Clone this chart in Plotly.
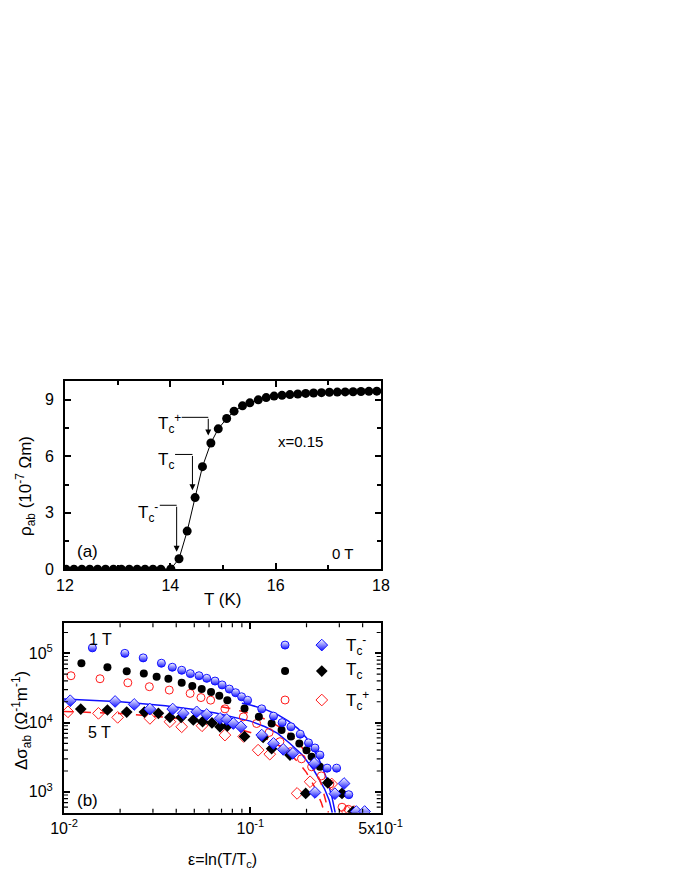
import plotly.graph_objects as go

# the page body has an 8 px margin, so the figure sits at (8, 8) in the window
OFF = 8
W, H = 680 - 2 * OFF, 880 - 2 * OFF
FONT = "Arial, Liberation Sans, sans-serif"
BLUE = "#1010ff"
RED = "#ff1a1a"

# ---- panel (a): rho_ab vs T, x=0.15, 0 T ----
T_K = [12.02, 12.17, 12.32, 12.47, 12.62, 12.77, 12.92, 13.07, 13.22, 13.37,
       13.52, 13.67, 13.82, 14.01, 14.165, 14.32, 14.47, 14.61, 14.77, 14.91,
       15.07, 15.21, 15.37, 15.51, 15.67, 15.82, 15.97, 16.12, 16.27, 16.42,
       16.57, 16.72, 16.87, 17.02, 17.17, 17.32, 17.47, 17.62, 17.77, 17.92]
rho_ab = [0.0, 0.0, 0.0, 0.0, 0.0, 0.0, 0.0, 0.0, 0.0, 0.0,
          0.0, 0.0, 0.0, 0.02, 0.56, 2.03, 3.81, 5.45, 6.71, 7.46,
          8.01, 8.40, 8.68, 8.84, 9.00, 9.12, 9.20, 9.24, 9.28, 9.31,
          9.34, 9.36, 9.38, 9.40, 9.41, 9.42, 9.43, 9.44, 9.45, 9.46]

# arrows: tip T, tip rho, corner rho, start of horizontal line
arrow_T = [14.72, 14.42, 14.12]
arrow_tip = [7.1, 4.2, 0.93]
arrow_corner = [8.07, 6.1, 3.4]
arrow_start = [14.215, 14.09, 13.80]
arrow_text = ["T<sub>c</sub><sup>+</sup>", "T<sub>c</sub>", "T<sub>c</sub><sup>-</sup>"]

# ---- panel (b): excess conductivity ----
# 1 T, circles
eps_1T_minus = [0.0142, 0.0212, 0.0266, 0.0333, 0.0381, 0.0428, 0.0476, 0.053, 0.0583,
                0.0646, 0.0705, 0.0771, 0.0833, 0.0897, 0.0966, 0.115, 0.133, 0.148,
                0.165, 0.185, 0.205, 0.222, 0.236, 0.258, 0.29, 0.337]
sig_1T_minus = [1.2e5, 1.0e5, 8.6e4, 7.2e4, 6.3e4, 5.7e4, 5.1e4, 4.75e4, 4.36e4,
                3.98e4, 3.5e4, 3.05e4, 2.7e4, 2.36e4, 2.1e4, 1.58e4, 1.24e4, 1.0e4,
                8.7e3, 6.8e3, 5.1e3, 4.3e3, 3.4e3, 2.2e3, 2.2e3, 910]
eps_1T_c = [0.0124, 0.0171, 0.0217, 0.0268, 0.0314, 0.0363, 0.0428, 0.0488, 0.0548,
            0.0615, 0.0681, 0.0752, 0.093, 0.111, 0.13, 0.147, 0.165, 0.183, 0.2,
            0.213, 0.236, 0.26, 0.31]
sig_1T_c = [7.2e4, 6.3e4, 5.5e4, 5.1e4, 4.6e4, 4.3e4, 3.76e4, 3.37e4, 3.05e4,
            2.76e4, 2.44e4, 2.11e4, 1.6e4, 1.21e4, 9.7e3, 7.8e3, 6.3e3, 5.0e3, 4.0e3,
            3.2e3, 2.3e3, 1.35e3, 950]
eps_1T_plus = [0.0109, 0.0156, 0.022, 0.0287, 0.0367, 0.0475, 0.0543, 0.0612, 0.073,
               0.0917, 0.108, 0.126, 0.144, 0.164, 0.188, 0.213, 0.24, 0.267, 0.31, 0.335]
sig_1T_plus = [4.75e4, 4.3e4, 3.76e4, 3.3e4, 2.95e4, 2.64e4, 2.3e4, 2.11e4, 1.58e4,
               1.21e4, 9.7e3, 7.2e3, 5.3e3, 3.8e3, 3.0e3, 2.3e3, 1.7e3, 1.3e3, 600, 560]
# 5 T, diamonds
eps_5T_minus = [0.0108, 0.0188, 0.0238, 0.0289, 0.0383, 0.0436, 0.0515, 0.0583, 0.0687,
                0.0747, 0.081, 0.089, 0.115, 0.133, 0.15, 0.169, 0.22, 0.222, 0.284,
                0.318, 0.37, 0.41]
sig_5T_minus = [2.07e4, 2.02e4, 1.83e4, 1.57e4, 1.57e4, 1.36e4, 1.43e4, 1.31e4, 1.15e4,
                1.11e4, 9.7e3, 8.7e3, 6.6e3, 5.0e3, 4.1e3, 3.6e3, 2.57e3, 980, 940,
                1.32e3, 520, 520]
eps_5T_c = [0.0123, 0.0171, 0.0217, 0.027, 0.0321, 0.037, 0.0425, 0.0494, 0.0554,
            0.0622, 0.0687, 0.0752, 0.093, 0.117, 0.13, 0.163, 0.198, 0.26, 0.31, 0.355]
sig_5T_c = [1.57e4, 1.52e4, 1.42e4, 1.42e4, 1.36e4, 1.19e4, 1.19e4, 1.09e4, 1.03e4,
            9.9e3, 8.7e3, 8.9e3, 6.3e3, 6.1e3, 4.2e3, 3.4e3, 950, 1.35e3, 950, 520]
eps_5T_plus = [0.0105, 0.0153, 0.0194, 0.0289, 0.037, 0.0428, 0.055, 0.073, 0.092,
               0.11, 0.127, 0.178, 0.209, 0.273, 0.33, 0.36]
sig_5T_plus = [1.43e4, 1.36e4, 1.19e4, 1.15e4, 1.03e4, 8.7e3, 9.0e3, 6.6e3, 6.3e3,
               4.0e3, 3.5e3, 950, 1.4e3, 1.3e3, 520, 520]

# fits
fit_1T_blue_eps = [0.09, 0.1, 0.12, 0.14, 0.16, 0.18, 0.2, 0.22, 0.24, 0.26, 0.275, 0.285]
fit_1T_blue_sig = [1.9e4, 1.8e4, 1.55e4, 1.3e4, 1.05e4, 8.2e3, 6.0e3, 4.0e3, 2.5e3, 1.4e3, 800, 500]
fit_5T_blue_eps = [0.01, 0.02, 0.035, 0.05, 0.065, 0.08, 0.1, 0.12, 0.14, 0.163, 0.19,
                   0.218, 0.25, 0.265, 0.275]
fit_5T_blue_sig = [2.2e4, 2.0e4, 1.75e4, 1.55e4, 1.38e4, 1.22e4, 1.05e4, 8.7e3, 7.0e3,
                   5.0e3, 3.4e3, 2.1e3, 1.1e3, 750, 500]
fit_1T_red_eps = [0.07, 0.08, 0.1, 0.12, 0.14, 0.16, 0.18, 0.2, 0.22, 0.24, 0.255, 0.262]
fit_1T_red_sig = [1.7e4, 1.58e4, 1.35e4, 1.12e4, 9.0e3, 7.0e3, 5.2e3, 3.6e3, 2.3e3, 1.3e3, 700, 500]
fit_5T_red_eps = [0.01, 0.02, 0.035, 0.05, 0.065, 0.08, 0.1, 0.12, 0.14, 0.16, 0.18,
                  0.2, 0.22, 0.24, 0.25]
fit_5T_red_sig = [1.45e4, 1.35e4, 1.2e4, 1.07e4, 9.5e3, 8.5e3, 7.2e3, 6.0e3, 4.8e3,
                  3.7e3, 2.7e3, 1.9e3, 1.2e3, 700, 500]

legend_labels = ["T<sub>c</sub><sup>-</sup>", "T<sub>c</sub>", "T<sub>c</sub><sup>+</sup>"]

# minor ticks of the log axes in panel (b)
minor_x_b = [0.02, 0.03, 0.04, 0.05, 0.06, 0.07, 0.08, 0.09, 0.2, 0.3, 0.4]
minor_y_b = [600, 700, 800, 900, 2e3, 3e3, 4e3, 5e3, 6e3, 7e3, 8e3, 9e3,
             2e4, 3e4, 4e4, 5e4, 6e4, 7e4, 8e4, 9e4, 2e5]


def px(x, y):
    # window pixel -> paper fraction
    return (x - OFF) / W, 1 - (y - OFF) / H


half_circle = dict(symbol="circle", size=8, color="white",
                   line=dict(color=BLUE, width=1),
                   gradient=dict(type="vertical", color=BLUE))
half_diamond = dict(symbol="diamond", size=9, color="white",
                    line=dict(color=BLUE, width=1),
                    gradient=dict(type="vertical", color=BLUE))
black_circle = dict(symbol="circle", size=8, color="black")
black_diamond = dict(symbol="diamond", size=9, color="black")
red_circle = dict(symbol="circle-open", size=8, color=RED, line=dict(width=1))
red_diamond = dict(symbol="diamond-open", size=9, color=RED, line=dict(width=1))

fig = go.Figure()

# panel (a)
fig.add_trace(go.Scatter(x=T_K, y=rho_ab, mode="lines+markers", xaxis="x", yaxis="y",
                         line=dict(color="black", width=1),
                         marker=dict(symbol="circle", size=9, color="black")))

# panel (b)
for e, s in [(fit_1T_blue_eps, fit_1T_blue_sig), (fit_5T_blue_eps, fit_5T_blue_sig)]:
    fig.add_trace(go.Scatter(x=e, y=s, mode="lines", xaxis="x2", yaxis="y2",
                             line=dict(color=BLUE, width=1.5)))
for e, s in [(fit_1T_red_eps, fit_1T_red_sig), (fit_5T_red_eps, fit_5T_red_sig)]:
    fig.add_trace(go.Scatter(x=e, y=s, mode="lines", xaxis="x2", yaxis="y2",
                             line=dict(color=RED, width=1.5, dash="dash")))

series = [
    (eps_1T_plus, sig_1T_plus, red_circle),
    (eps_5T_plus, sig_5T_plus, red_diamond),
    (eps_1T_c, sig_1T_c, black_circle),
    (eps_5T_c, sig_5T_c, black_diamond),
    (eps_1T_minus, sig_1T_minus, half_circle),
    (eps_5T_minus, sig_5T_minus, half_diamond),
]
for e, s, m in series:
    fig.add_trace(go.Scatter(x=e, y=s, mode="markers", xaxis="x2", yaxis="y2", marker=m))

# legend keys drawn on a hidden overlay axis of panel (b)
leg_rows = [0.885, 0.748, 0.595]
leg_markers = [(half_circle, half_diamond), (black_circle, black_diamond),
               (red_circle, red_diamond)]
for yy, (mc, md) in zip(leg_rows, leg_markers):
    fig.add_trace(go.Scatter(x=[0.698], y=[yy], mode="markers", xaxis="x3", yaxis="y3",
                             marker=mc, cliponaxis=False))
    fig.add_trace(go.Scatter(x=[0.814], y=[yy], mode="markers", xaxis="x3", yaxis="y3",
                             marker=md, cliponaxis=False))

axis_common = dict(showline=True, linecolor="black", linewidth=2, mirror="ticks",
                   ticks="inside", tickcolor="black", tickwidth=1.5, ticklen=6,
                   showgrid=False, zeroline=False, automargin=False,
                   tickfont=dict(family=FONT, size=16, color="black"))


def dom_x(a, b):
    return [(a - OFF) / W, (b - OFF) / W]


def dom_y(top, bottom):
    return [1 - (bottom - OFF) / H, 1 - (top - OFF) / H]


xa_dom = dom_x(65, 381)
ya_dom = dom_y(381, 569.3)
xb_dom = dom_x(64, 380.7)
yb_dom = dom_y(623.3, 812.7)

fig.update_layout(
    width=W, height=H, showlegend=False,
    paper_bgcolor="white", plot_bgcolor="white",
    margin=dict(l=0, r=0, t=0, b=0, autoexpand=False),
    font=dict(family=FONT, size=16, color="black"),
    xaxis=dict(axis_common, domain=xa_dom, anchor="y", range=[12, 18],
               tick0=12, dtick=2,
               minor=dict(dtick=1, ticks="inside", ticklen=4, tickcolor="black")),
    yaxis=dict(axis_common, domain=ya_dom, anchor="x", range=[0, 10],
               tick0=0, dtick=3, ticklabelstandoff=6,
               minor=dict(dtick=1.5, ticks="inside", ticklen=4, tickcolor="black")),
    xaxis2=dict(axis_common, domain=xb_dom, anchor="y2", type="log",
                range=[-2, -0.301],
                tickvals=[0.01, 0.1, 0.5],
                ticktext=["10<sup>-2</sup>", "10<sup>-1</sup>", "5x10<sup>-1</sup>"]),
    yaxis2=dict(axis_common, domain=yb_dom, anchor="x2", type="log",
                range=[2.699, 5.434], ticklabelstandoff=6,
                tickvals=[1e3, 1e4, 1e5],
                ticktext=["10<sup>3</sup>", "10<sup>4</sup>", "10<sup>5</sup>"]),
    xaxis3=dict(overlaying="x2", anchor="y3", range=[0, 1], visible=False),
    yaxis3=dict(overlaying="y2", anchor="x3", range=[0, 1], visible=False),
)

# minor ticks of panel (b), inside on all four sides
tick_w = dict(color="black", width=1.2)
ly = 4 / (yb_dom[1] - yb_dom[0]) / H
for v in minor_x_b:
    fig.add_shape(type="line", xref="x2", yref="y2 domain", x0=v, x1=v, y0=0, y1=ly, line=tick_w)
    fig.add_shape(type="line", xref="x2", yref="y2 domain", x0=v, x1=v, y0=1, y1=1 - ly, line=tick_w)
for v in minor_y_b:
    fig.add_shape(type="line", xref="paper", yref="y2", x0=xb_dom[0], x1=xb_dom[0] + 4 / W,
                  y0=v, y1=v, line=tick_w)
    fig.add_shape(type="line", xref="paper", yref="y2", x0=xb_dom[1], x1=xb_dom[1] - 4 / W,
                  y0=v, y1=v, line=tick_w)

# arrows in panel (a)
for xt, yt, yc, xs in zip(arrow_T, arrow_tip, arrow_corner, arrow_start):
    fig.add_shape(type="line", xref="x", yref="y", x0=xs, x1=xt, y0=yc, y1=yc,
                  line=dict(color="black", width=1))
    fig.add_annotation(x=xt, y=yt, ax=xt, ay=yc, xref="x", yref="y", axref="x", ayref="y",
                       text="", showarrow=True, arrowhead=2, arrowsize=1.2,
                       arrowwidth=1, arrowcolor="black")

labels = [
    # text, x px, y px, size, xanchor
    (arrow_text[0], 183, 424, 17, "right"),
    (arrow_text[1], 176, 461, 17, "right"),
    (arrow_text[2], 160, 513, 17, "right"),
    ("x=0.15", 300, 441, 15, "center"),
    ("(a)", 87, 551, 17, "center"),
    ("0 T", 342, 553, 15, "center"),
    ("T (K)", 223, 599, 17, "center"),
    ("1 T", 100, 639, 16, "center"),
    ("5 T", 99, 732, 16, "center"),
    ("(b)", 87, 800, 17, "center"),
    ("ε=ln(T/T<sub>c</sub>)", 223, 860, 16, "center"),
]
for txt, x, y, size, xa in labels:
    xp, yp = px(x, y)
    fig.add_annotation(x=xp, y=yp, xref="paper", yref="paper", text=txt, showarrow=False,
                       xanchor=xa, yanchor="middle", font=dict(family=FONT, size=size))

for txt, yy in zip(legend_labels, [645, 671, 700]):
    xp, yp = px(344, yy)
    fig.add_annotation(x=xp, y=yp, xref="paper", yref="paper", text=txt, showarrow=False,
                       xanchor="left", yanchor="middle", font=dict(family=FONT, size=17))

# rotated y titles
for txt, x, y in [("ρ<sub>ab</sub> (10<sup>-7</sup> Ωm)", 26, 486),
                  ("Δσ<sub>ab</sub> (Ω<sup>-1</sup>m<sup>-1</sup>)", 21, 721)]:
    xp, yp = px(x, y)
    fig.add_annotation(x=xp, y=yp, xref="paper", yref="paper", text=txt, showarrow=False,
                       textangle=-90, xanchor="center", yanchor="middle",
                       font=dict(family=FONT, size=17))

fig.write_html("out.html")
